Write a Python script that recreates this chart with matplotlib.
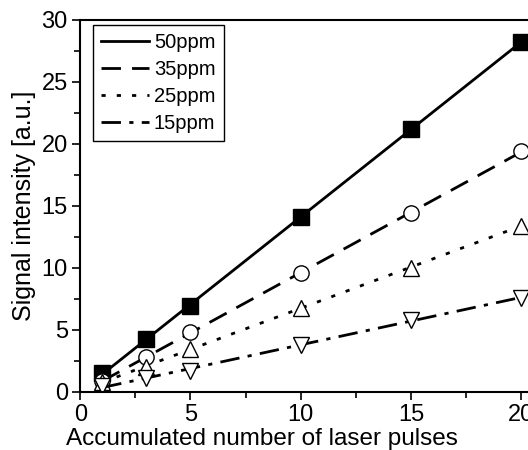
import numpy as np
import matplotlib
matplotlib.use('Agg')
import matplotlib.pyplot as plt
from matplotlib.ticker import MultipleLocator

plt.rcParams['font.family'] = ['Liberation Sans', 'DejaVu Sans']

# Data
pulses   = [1, 3, 5, 10, 15, 20]
sig_50   = [1.5, 4.3, 6.9, 14.1, 21.2, 28.2]
sig_35   = [0.9, 2.8, 4.8, 9.6, 14.4, 19.4]
sig_25   = [0.8, 2.0, 3.5, 6.8, 10.0, 13.4]
sig_15   = [0.5, 1.1, 1.7, 3.8, 5.8, 7.6]
labels   = ['50ppm', '35ppm', '25ppm', '15ppm']

series  = [sig_50, sig_35, sig_25, sig_15]
styles  = ['-', (0, (7, 4)), (0, (1.5, 4)), (0, (7, 3, 1.5, 3))]
markers = ['s', 'o', '^', 'v']
faces   = ['black', 'white', 'white', 'white']

fig = plt.figure(figsize=(5.28, 4.5), dpi=100)
ax = fig.add_axes([0.152, 0.129, 0.86, 0.827])

x = np.array(pulses, dtype=float)
xf = np.array([1.0, 20.0])
for y, ls, mk, fc, lab in zip(series, styles, markers, faces, labels):
    p = np.polyfit(x, y, 1)
    ax.plot(xf, np.polyval(p, xf), color='black', lw=2, linestyle=ls, label=lab)
    ax.plot(x, y, linestyle='none', marker=mk, ms=11, mfc=fc, mec='black', mew=1)

ax.set_xlim(0, 20.6)
ax.set_ylim(0, 30)
ax.xaxis.set_major_locator(MultipleLocator(5))
ax.xaxis.set_minor_locator(MultipleLocator(2.5))
ax.yaxis.set_major_locator(MultipleLocator(5))
ax.yaxis.set_minor_locator(MultipleLocator(2.5))
ax.tick_params(which='both', direction='out', labelsize=17, width=1.2)
ax.tick_params(which='major', length=6, pad=3)
ax.tick_params(which='minor', length=4)
for s in ax.spines.values():
    s.set_linewidth(1.5)
ax.spines['right'].set_visible(False)

ax.set_xlabel('Accumulated number of laser pulses', fontsize=17.5)
ax.xaxis.set_label_coords(0.40, -0.097)
ax.set_ylabel('Signal intensity [a.u.]', fontsize=18, labelpad=4)

leg = ax.legend(loc='upper left', fontsize=14.5, handlelength=2.4, handletextpad=0.25,
                borderpad=0.4, labelspacing=0.4, fancybox=False, edgecolor='black',
                framealpha=1, borderaxespad=0, bbox_to_anchor=(0.027, 0.987))
leg.get_frame().set_linewidth(1)

fig.savefig('out.png', dpi=100)
